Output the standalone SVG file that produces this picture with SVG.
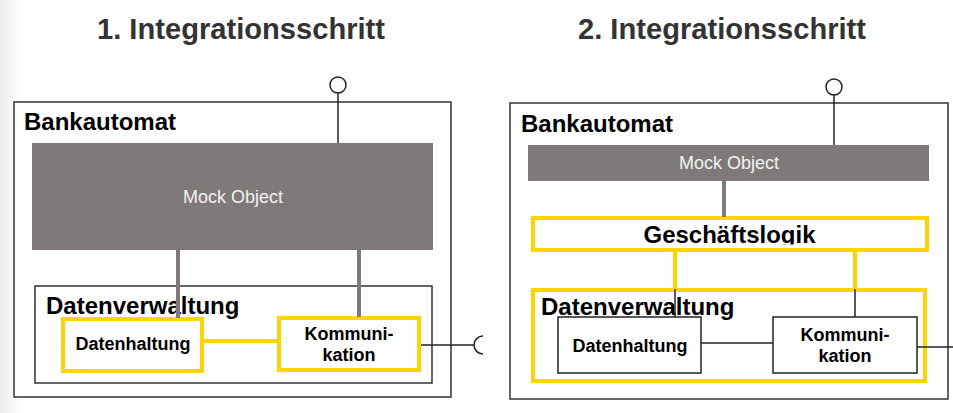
<svg xmlns="http://www.w3.org/2000/svg" width="953" height="413" viewBox="0 0 953 413">
<style>
.bg{fill:#ffffff}
.frame{fill:#ffffff;stroke:#333333;stroke-width:1.5}
.mock{fill:#7f7a79}
.ybox{fill:#ffffff;stroke:#ffd400;stroke-width:4}
.bbox{fill:#ffffff;stroke:#222222;stroke-width:1.5}
.gline{stroke:#7f7a79;stroke-width:4;fill:none}
.yline{stroke:#ffd400;stroke-width:4;fill:none}
.kline{stroke:#222222;stroke-width:1.5;fill:none}
.title{font-family:"Liberation Sans",Arial,sans-serif;font-weight:bold;font-size:29px;fill:#333333}
.big{font-family:"Liberation Sans",Arial,sans-serif;font-weight:bold;font-size:24px;fill:#000000}
.lbl{font-family:"Liberation Sans",Arial,sans-serif;font-weight:bold;font-size:18px;fill:#000000;text-anchor:middle}
.mtxt{font-family:"Liberation Sans",Arial,sans-serif;font-size:18px;fill:#f2f2f2;text-anchor:middle}
</style>
<defs>
<linearGradient id="edge" x1="0" y1="0" x2="1" y2="0">
<stop offset="0" stop-color="#ededed"/>
<stop offset="1" stop-color="#ffffff"/>
</linearGradient>
<clipPath id="gclip"><rect x="535" y="220" width="390" height="24.5"/></clipPath>
</defs>
<rect class="bg" x="0" y="0" width="953" height="413"/>
<rect x="0" y="0" width="22" height="413" fill="url(#edge)"/>

<g id="title1"><text class="title" x="97" y="39" textLength="288" lengthAdjust="spacingAndGlyphs">1. Integrationsschritt</text></g>
<g id="title2"><text class="title" x="578" y="39" textLength="288" lengthAdjust="spacingAndGlyphs">2. Integrationsschritt</text></g>

<!-- Left panel -->
<g id="bankautomat1">
<rect class="frame" x="14" y="102" width="437" height="295"/>
<text class="big" x="24" y="130">Bankautomat</text>
</g>
<g id="mock1">
<rect class="mock" x="32" y="143" width="401" height="107"/>
<text class="mtxt" x="233" y="203">Mock Object</text>
</g>
<g id="datenverwaltung1">
<rect class="frame" x="35" y="286" width="397" height="97"/>
<text class="big" x="46" y="314">Datenverwaltung</text>
</g>
<g id="datenhaltung1">
<rect class="ybox" x="63" y="319" width="139" height="52"/>
<text class="lbl" x="133" y="350">Datenhaltung</text>
</g>
<g id="kommunikation1">
<rect class="ybox" x="279" y="318" width="140" height="52"/>
<text class="lbl" x="349" y="340">Kommuni-</text>
<text class="lbl" x="349" y="361">kation</text>
</g>
<g id="iface1top">
<circle cx="338" cy="85" r="8" fill="#ffffff" stroke="#222222" stroke-width="1.5"/>
</g>
<g id="iface1right">
<path d="M483 336 A9 9 0 0 0 483 354" fill="none" stroke="#222222" stroke-width="1.5"/>
</g>

<!-- Right panel -->
<g id="bankautomat2">
<rect class="frame" x="510" y="103" width="438" height="296"/>
<text class="big" x="521" y="132">Bankautomat</text>
</g>
<g id="mock2">
<rect class="mock" x="528" y="145" width="401" height="36"/>
<text class="mtxt" x="729" y="169">Mock Object</text>
</g>
<g id="geschaeftslogik">
<rect class="ybox" x="533" y="218" width="394" height="32"/>
<text class="big" x="729.5" y="243" text-anchor="middle" clip-path="url(#gclip)">Geschäftslogik</text>
</g>
<g id="datenverwaltung2">
<rect class="ybox" x="533" y="290" width="392" height="91"/>
<text class="big" x="541" y="315">Datenverwaltung</text>
</g>
<g id="datenhaltung2">
<rect class="bbox" x="558" y="317" width="143" height="56"/>
<text class="lbl" x="630" y="352">Datenhaltung</text>
</g>
<g id="kommunikation2">
<rect class="bbox" x="773" y="317" width="144" height="56"/>
<text class="lbl" x="845" y="341">Kommuni-</text>
<text class="lbl" x="845" y="362">kation</text>
</g>
<g id="iface2top">
<circle cx="834" cy="87" r="8" fill="#ffffff" stroke="#222222" stroke-width="1.5"/>
</g>

<g id="connectors">
<line class="kline" x1="338" y1="93" x2="338" y2="143"/>
<line class="gline" x1="178" y1="250" x2="178" y2="318"/>
<line class="gline" x1="359" y1="250" x2="359" y2="317"/>
<line class="yline" x1="202" y1="341" x2="279" y2="341"/>
<line class="kline" x1="421" y1="345" x2="474" y2="345"/>

<line class="kline" x1="834" y1="95" x2="834" y2="145"/>
<line class="gline" x1="724" y1="181" x2="724" y2="217"/>
<line class="yline" x1="675" y1="251" x2="675" y2="289"/>
<line class="yline" x1="855" y1="251" x2="855" y2="289"/>
<line class="kline" x1="675" y1="289" x2="675" y2="317"/>
<line class="kline" x1="855" y1="289" x2="855" y2="317"/>
<line class="kline" x1="701" y1="343" x2="773" y2="343"/>
<line class="kline" x1="917" y1="347" x2="953" y2="347"/>
</g>
</svg>
